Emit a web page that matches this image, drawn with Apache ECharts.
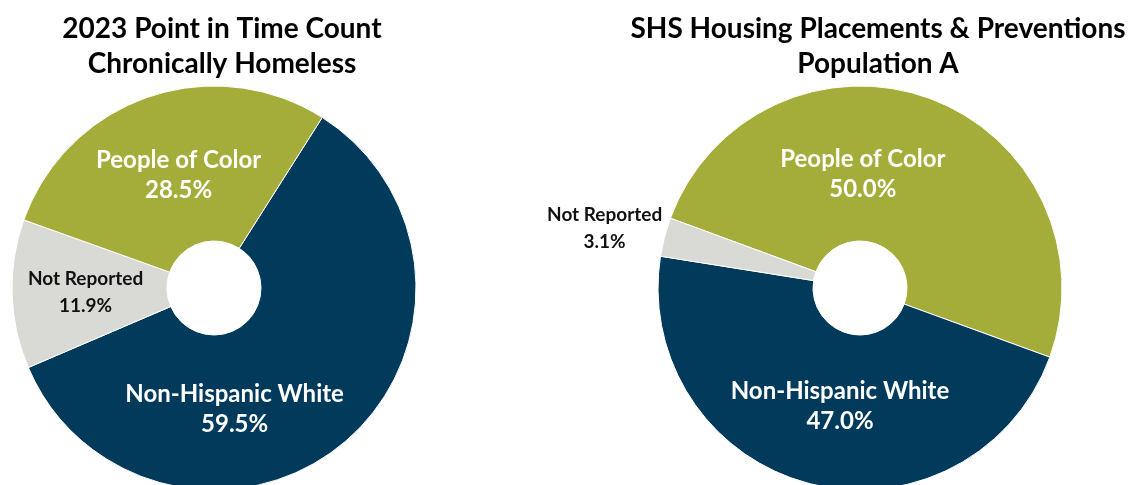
<!DOCTYPE html>
<html>
<head>
<meta charset="utf-8">
<script src="https://cdn.jsdelivr.net/npm/echarts@6/dist/echarts.min.js"></script>
<style>
    html, body {margin: 0; padding: 0; background: #fff;}
    #chart {width: 1130px; height: 485px;}
</style>
</head>
<body>
<div id="chart"></div>
<script>
const font = 'Lato';

const pitCategories = ['Non-Hispanic White', 'Not Reported', 'People of Color'];
const pitValues = [59.5, 11.9, 28.5];

const shsCategories = ['People of Color', 'Non-Hispanic White', 'Not Reported'];
const shsValues = [50.0, 47.0, 3.1];

const colors = {
    'Non-Hispanic White': '#023a5c',
    'People of Color': '#a5ad3a',
    'Not Reported': '#d9d9d6',
};

// label nudges, relative to the middle of the ring
const pitOffsets = {
    'Non-Hispanic White': [-62, 24],
    'Not Reported': [-1, 0],
    'People of Color': [6, 8],
};
const shsOffsets = {
    'People of Color': [-41, 6],
    'Non-Hispanic White': [12, -5],
    'Not Reported': [-132, -27],
};

function labelFor(name) {
    const dark = name === 'Not Reported';
    return {
        show: true,
        position: 'inside',
        formatter: p => `${p.name}\n${p.value.toFixed(1)}%`,
        color: dark ? '#111' : '#fff',
        fontFamily: font,
        fontWeight: 'bold',
        fontSize: dark ? 19 : 24,
        lineHeight: dark ? 27 : 30,
        align: 'center',
    };
}

function buildData(cats, vals, offsets) {
    return cats.map((name, i) => ({
        name,
        value: vals[i],
        itemStyle: {color: colors[name]},
        label: {...labelFor(name), offset: offsets[name]},
    }));
}

const chart = echarts.init(document.getElementById('chart'), null, {renderer: 'canvas'});

const titleStyle = {
    fontFamily: font,
    fontWeight: 'bold',
    fontSize: 28,
    lineHeight: 35,
    color: '#000',
};

chart.setOption({
    animation: false,
    title: [{
        text: '2023 Point in Time Count\nChronically Homeless',
        left: 217,
        top: 6,
        textAlign: 'center',
        textStyle: titleStyle,
    }, {
        text: 'SHS Housing Placements & Preventions\nPopulation A',
        left: 873,
        top: 6,
        textAlign: 'center',
        textStyle: titleStyle,
    }],
    series: [{
        type: 'pie',
        center: [214, 288],
        radius: [47, 202],
        startAngle: 57.6,
        clockwise: true,
        silent: true,
        itemStyle: {borderColor: '#fff', borderWidth: 1},
        labelLine: {show: false},
        data: buildData(pitCategories, pitValues, pitOffsets),
    }, {
        type: 'pie',
        center: [860, 288],
        radius: [47, 202],
        startAngle: 159.8,
        clockwise: true,
        silent: true,
        itemStyle: {borderColor: '#fff', borderWidth: 1},
        labelLine: {show: false},
        data: buildData(shsCategories, shsValues, shsOffsets),
    }],
});
</script>
</body>
</html>
